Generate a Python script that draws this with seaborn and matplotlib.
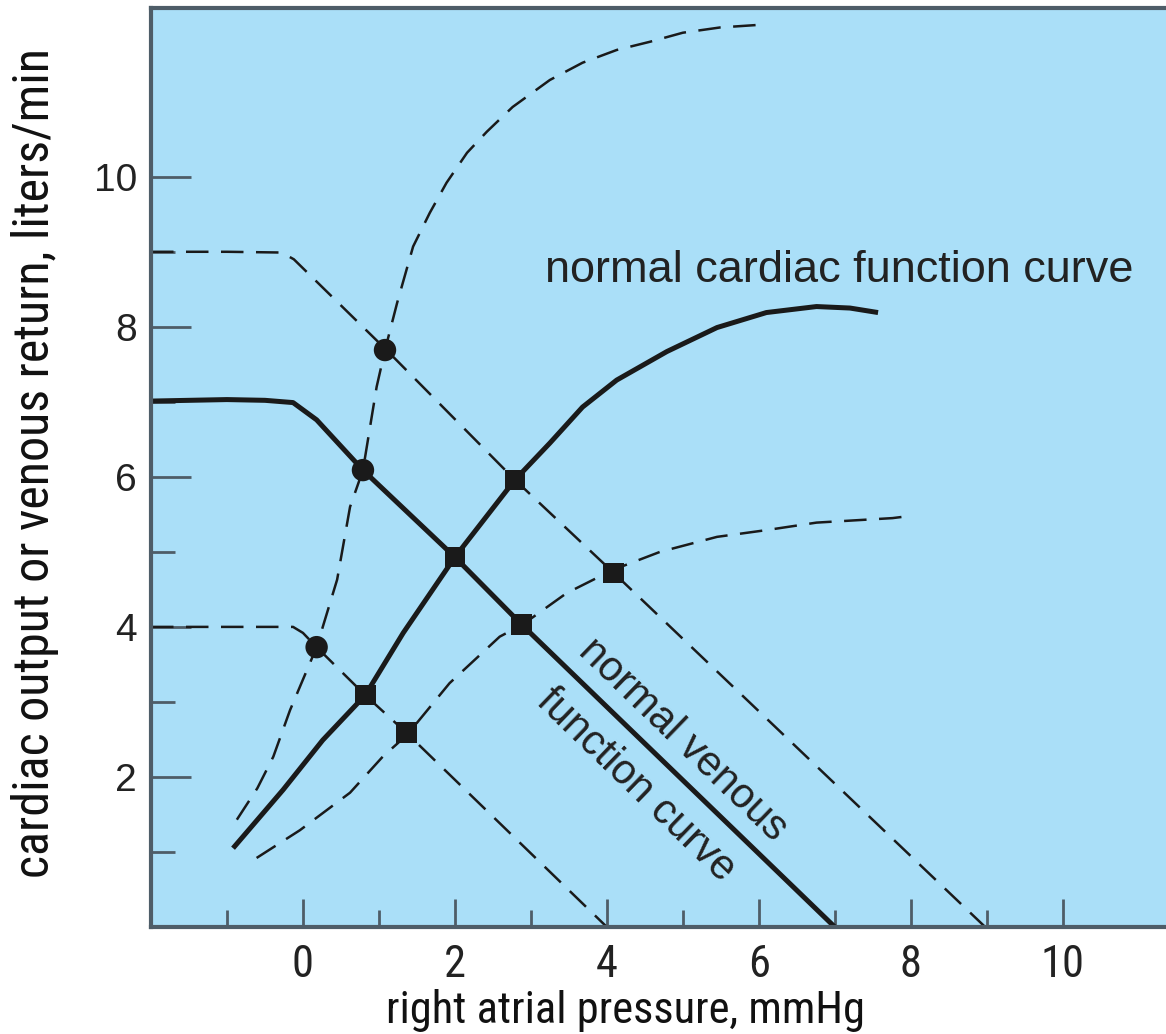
import numpy as np
import seaborn as sns
import matplotlib
matplotlib.use("Agg")
import matplotlib.pyplot as plt
from matplotlib import font_manager

# --- data ----------------------------------------------------------------
# venous return curves (right atrial pressure -> flow)
venous_normal_x = [-2.0, -1.0, -0.5, -0.13, 0.18, 0.79, 2.0, 2.88, 7.0]
venous_normal_y = [7.01, 7.03, 7.02, 6.99, 6.76, 6.09, 4.93, 4.03, 0.0]

venous_high_x = [-2.0, -1.0, -0.28, -0.12, 1.1, 2.79, 4.09, 8.98]
venous_high_y = [9.0, 9.0, 8.99, 8.9, 7.69, 5.96, 4.72, 0.0]

venous_low_x = [-2.0, -1.0, -0.13, 0.0, 0.18, 0.82, 1.36, 4.0]
venous_low_y = [4.0, 4.0, 4.0, 3.92, 3.73, 3.09, 2.59, 0.0]

# cardiac function curves
cardiac_normal_x = [-0.92, -0.26, 0.26, 0.82, 1.32, 2.0, 2.79, 3.25, 3.68,
                    4.13, 4.79, 5.45, 6.1, 6.76, 7.2, 7.57]
cardiac_normal_y = [1.05, 1.83, 2.49, 3.09, 3.92, 4.93, 5.96, 6.45, 6.93,
                    7.29, 7.67, 7.99, 8.19, 8.27, 8.25, 8.19]

cardiac_high_x = [-0.87, -0.6, -0.39, -0.17, 0.18, 0.45, 0.62, 0.79, 0.97,
                  1.08, 1.24, 1.45, 1.67, 1.89, 2.16, 2.42, 2.76, 3.25,
                  3.68, 4.13, 4.57, 5.0, 5.49, 6.08]
cardiac_high_y = [1.43, 1.85, 2.27, 2.89, 3.73, 4.63, 5.6, 6.09, 7.2,
                  7.69, 8.32, 9.07, 9.52, 9.92, 10.32, 10.6, 10.93, 11.29,
                  11.52, 11.69, 11.8, 11.92, 11.99, 12.03]

cardiac_low_x = [-0.61, -0.04, 0.62, 1.05, 1.37, 1.93, 2.59, 2.89, 3.47,
                 4.08, 4.7, 5.45, 6.1, 6.76, 7.76, 7.92]
cardiac_low_y = [0.92, 1.29, 1.79, 2.27, 2.56, 3.25, 3.87, 4.03, 4.45,
                 4.76, 5.0, 5.2, 5.29, 5.39, 5.45, 5.47]

# equilibrium points
round_dots_x = [1.08, 0.79, 0.18]
round_dots_y = [7.69, 6.09, 3.73]
square_dots_x = [2.79, 2.0, 4.09, 2.88, 0.82, 1.36]
square_dots_y = [5.96, 4.93, 4.72, 4.03, 3.09, 2.59]

x_major = [0, 2, 4, 6, 8, 10]
x_minor = [-1, 1, 3, 5, 7, 9]
y_major = [2, 4, 6, 8, 10]
y_minor = [1, 3, 5, 7, 9]


def pick_font(names, default="DejaVu Sans"):
    for n in names:
        try:
            font_manager.findfont(n, fallback_to_default=False)
            return n
        except Exception:
            continue
    return default


def narrow_font():
    # look for any installed condensed / narrow sans face
    prefs = ["Liberation Sans Narrow", "Roboto Condensed", "Open Sans Condensed",
             "DejaVu Sans Condensed", "Noto Sans Condensed"]
    found = {}
    for f in font_manager.fontManager.ttflist:
        key = f.name
        fn = f.fname.lower()
        if ("narrow" in key.lower() or "condensed" in key.lower()
                or "condensed" in fn or "narrow" in fn):
            if f.weight in ("normal", 400, "regular") and f.style == "normal" \
                    and "bold" not in fn and "light" not in fn:
                found.setdefault(key, f.fname)
    for p in prefs:
        if p in found:
            return font_manager.FontProperties(fname=found[p]), True
    if found:
        return font_manager.FontProperties(fname=list(found.values())[0]), True
    return font_manager.FontProperties(family=wide), False


wide = pick_font(["Liberation Sans", "Arial"])
narrow_fp, is_narrow = narrow_font()

sns.set_theme(style="ticks")
plt.rcParams["font.family"] = [wide, "DejaVu Sans"]

bg = "#aadff8"
ink = "#1a1a1a"
spine_col = "#4e5d68"

fig = plt.figure(figsize=(11.66, 10.34), dpi=100)
ax = fig.add_axes([0.1295, 0.1035, 0.8705, 0.8888])
ax.set_facecolor(bg)

dash = (9, 5)
thick = 3.6
thin = 1.8

curves = [
    (venous_normal_x, venous_normal_y, thick, None),
    (cardiac_normal_x, cardiac_normal_y, thick, None),
    (venous_high_x, venous_high_y, thin, dash),
    (venous_low_x, venous_low_y, thin, dash),
    (cardiac_high_x, cardiac_high_y, thin, dash),
    (cardiac_low_x, cardiac_low_y, thin, dash),
]
for xs, ys, lw, ds in curves:
    sns.lineplot(x=xs, y=ys, ax=ax, color=ink, linewidth=lw, sort=False,
                 estimator=None, solid_capstyle="butt", solid_joinstyle="round")
    line = ax.get_lines()[-1]
    if ds is not None:
        line.set_dashes(ds)
        line.set_dash_capstyle("butt")

sns.scatterplot(x=round_dots_x, y=round_dots_y, ax=ax, color=ink, s=260,
                marker="o", edgecolor="none", zorder=5)
sns.scatterplot(x=square_dots_x, y=square_dots_y, ax=ax, color=ink, s=220,
                marker="s", edgecolor="none", zorder=5)

ax.set_xlim(-2.0, 11.36)
ax.set_ylim(0, 12.25)

# sizes depend on whether a condensed face exists
xt_size = 32 if is_narrow else 27
xl_size = 32 if is_narrow else 27
yl_size = 36 if is_narrow else 29

ax.set_xticks(x_major)
ax.set_xticks(x_minor, minor=True)
ax.set_yticks(y_major)
ax.set_yticks(y_minor, minor=True)
ax.set_xticklabels([str(v) for v in x_major], fontproperties=narrow_fp,
                   fontsize=xt_size)
ax.set_yticklabels([str(v) for v in y_major], fontfamily=wide, fontsize=28)

ax.tick_params(axis="x", which="major", direction="in", length=20, width=2,
               color=spine_col, pad=12, labelcolor="#222222")
ax.tick_params(axis="x", which="minor", direction="in", length=12, width=2,
               color=spine_col)
ax.tick_params(axis="y", which="major", direction="in", length=29, width=2,
               color=spine_col, pad=10, labelcolor="#222222")
ax.tick_params(axis="y", which="minor", direction="in", length=17, width=2,
               color=spine_col)

for side in ["left", "bottom", "top"]:
    ax.spines[side].set_color(spine_col)
    ax.spines[side].set_linewidth(3)
ax.spines["right"].set_visible(False)

ax.set_xlabel("right atrial pressure, mmHg", fontproperties=narrow_fp,
              fontsize=xl_size, color="#111111")
ax.xaxis.set_label_coords(0.467, -0.068)
ax.set_ylabel("cardiac output or venous return, liters/min",
              fontproperties=narrow_fp, fontsize=yl_size, color="#111111")
ax.yaxis.set_label_coords(-0.091, 0.505)

ax.text(3.18, 8.6, "normal cardiac function curve", fontsize=32.5,
        color="#222222", ha="left", va="baseline")
ax.text(5.0, 2.49, "normal venous", fontsize=30, color="#222222",
        rotation=-44, rotation_mode="anchor", ha="center", va="center")
ax.text(4.38, 1.89, "function curve", fontsize=30, color="#222222",
        rotation=-44, rotation_mode="anchor", ha="center", va="center")

plt.savefig("out.png", dpi=100, facecolor="white")
